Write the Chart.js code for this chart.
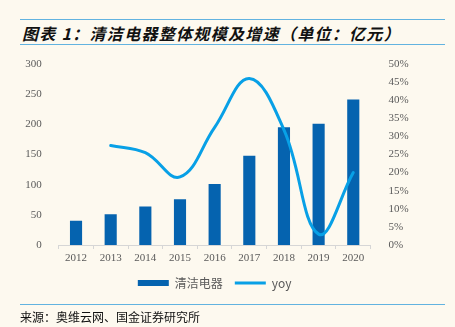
<!DOCTYPE html>
<html><head><meta charset="utf-8">
<script src="https://cdn.jsdelivr.net/npm/chart.js@4.4.1/dist/chart.umd.min.js"></script>
<style>
html,body{margin:0;padding:0;background:#fdf9ef;width:455px;height:327px;overflow:hidden;}
#wrap{position:relative;width:455px;height:327px;}
.rule{position:absolute;left:20px;width:425px;height:0;border-top:1.5px solid #62b3e0;}
#title{position:absolute;left:22px;top:21px;font:italic bold 16px "Noto Sans CJK SC",sans-serif;color:#111;letter-spacing:1.3px;white-space:nowrap;}
#src{position:absolute;left:20px;top:308px;font:12px "Noto Sans CJK SC",sans-serif;color:#111;white-space:nowrap;}
#c{position:absolute;left:0;top:0;}
</style></head>
<body><div id="wrap">
<div class="rule" style="top:19px"></div>
<div id="title">图表 1：清洁电器整体规模及增速（单位：亿元）</div>
<div class="rule" style="top:44px"></div>
<canvas id="c" width="455" height="327"></canvas>
<div class="rule" style="top:304px"></div>
<div id="src">来源：奥维云网、国金证券研究所</div>
</div>
<script>
const years = ['2012','2013','2014','2015','2016','2017','2018','2019','2020'];
const scale = [40, 51, 64, 76, 101, 148, 195, 201, 241];
const yoy = [null, 27.5, 25.5, 18.8, 32.5, 46, 31.8, 3, 20];
const leftTicks = [0, 300, 50];
const rightTicks = [0, 50, 5];

const tickFont = {family: '"Liberation Serif", serif', size: 11};
const tickColor = '#5a5a5a';

new Chart(document.getElementById('c'), {
  data: {
    labels: years,
    datasets: [
      {type: 'bar', label: '清洁电器', data: scale, backgroundColor: '#0563af', borderWidth: 0,
       yAxisID: 'y', order: 1, barPercentage: 0.35, categoryPercentage: 1},
      {type: 'line', label: 'yoy', data: yoy, borderColor: '#08a0e6', backgroundColor: '#08a0e6',
       borderWidth: 3, pointRadius: 0, tension: 0.4, yAxisID: 'y1', order: 0, borderCapStyle: 'round'}
    ]
  },
  options: {
    responsive: false, animation: false,
    layout: {padding: {top: 64, left: 0, right: 0, bottom: 28}},
    plugins: {
      tooltip: {enabled: false},
      legend: {
        position: 'bottom', fullSize: false,
        labels: {
          usePointStyle: true, pointStyleWidth: 31, boxHeight: 6, padding: 12,
          color: '#5a5a5a', font: {family: '"Noto Sans CJK SC","Liberation Serif",serif', size: 12},
          sort: (a, b) => a.datasetIndex - b.datasetIndex,
          generateLabels(chart) {
            return chart.data.datasets.map((d, i) => ({
              text: d.label, datasetIndex: i,
              fillStyle: d.type === 'bar' ? d.backgroundColor : d.borderColor,
              strokeStyle: d.type === 'bar' ? d.backgroundColor : d.borderColor,
              lineWidth: d.type === 'bar' ? 0 : 3,
              pointStyle: d.type === 'bar' ? 'rect' : 'line',
              fontColor: '#5a5a5a', hidden: false
            }));
          }
        }
      }
    },
    scales: {
      x: {
        offset: true,
        grid: {offset: true, drawOnChartArea: false, tickLength: 4, color: '#d6d6d6'},
        border: {color: '#d6d6d6'},
        ticks: {font: tickFont, color: tickColor, padding: 3, maxRotation: 0},
        afterFit(s) { s.height = 20; }
      },
      y: {
        position: 'left', min: leftTicks[0], max: leftTicks[1],
        ticks: {stepSize: leftTicks[2], font: tickFont, color: tickColor, padding: 9},
        grid: {display: false}, border: {display: false},
        afterFit(s) { s.width = 58.7; }
      },
      y1: {
        position: 'right', min: rightTicks[0], max: rightTicks[1],
        ticks: {stepSize: rightTicks[2], font: tickFont, color: tickColor, padding: 10,
                callback: v => v + '%'},
        grid: {display: false}, border: {display: false},
        afterFit(s) { s.width = 84.4; }
      }
    }
  }
});
</script>
</body></html>
